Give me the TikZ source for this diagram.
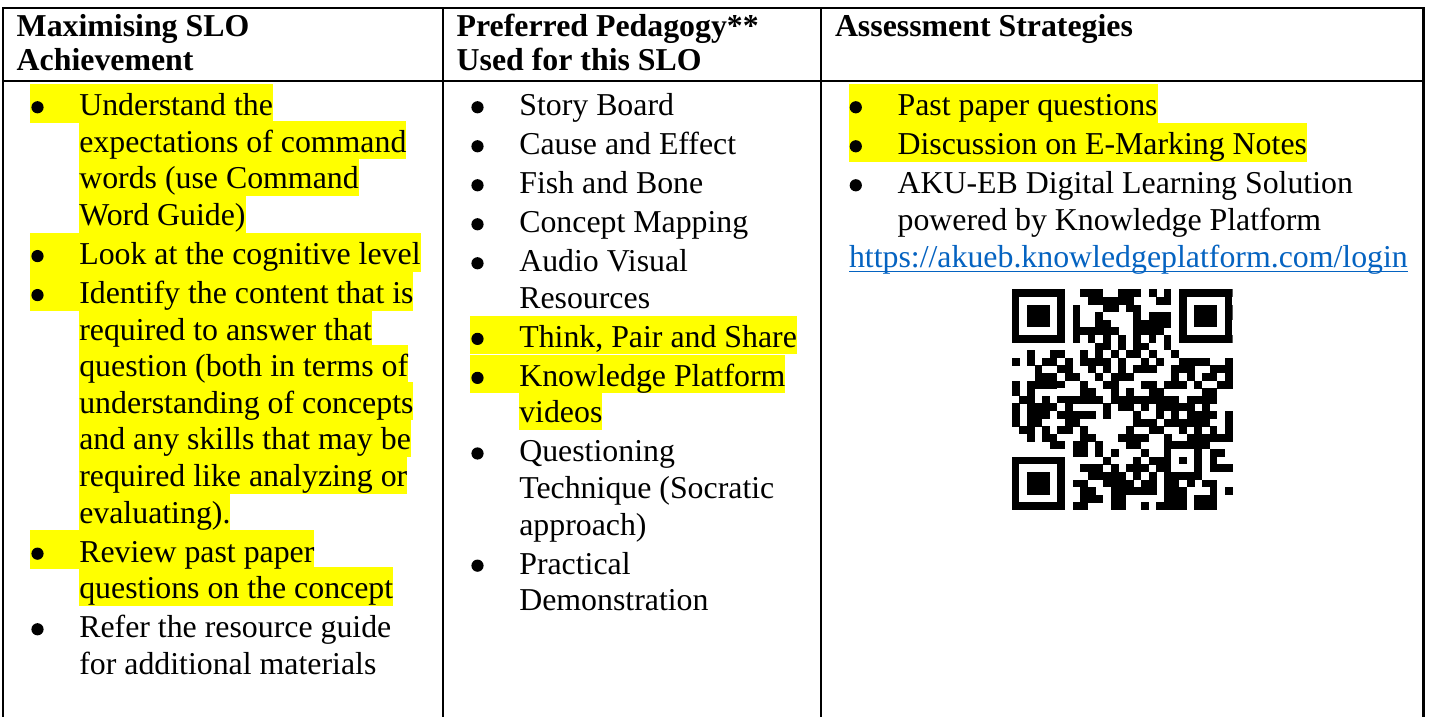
\documentclass[tikz,border=0pt]{standalone}
\usepackage{fontspec}
\setmainfont{Liberation Serif}
\usetikzlibrary{calc,backgrounds}
\definecolor{hly}{HTML}{FFFF00}
\definecolor{urlblue}{HTML}{0563C1}
\newcommand\hlfirst[1]{\fill[hly] ($(#1.base west)+(-49,-31.6)$) rectangle ($(#1.base east)+(0,7.2)$);}
\newcommand\hlcont[1]{\fill[hly] ($(#1.base west)+(0,-31.6)$) rectangle ($(#1.base east)+(0,7.2)$);}
\newcommand\bulat[1]{\node[bul] (bu#1) at ($(#1.base west)+(-41.8,-8.4)$) {};}
\newcommand\qrfinderat[2]{\fill[white] (#1-1,#2-1) rectangle (#1+8,#2+8);
  \fill (#1,#2) rectangle (#1+7,#2+7); \fill[white] (#1+1,#2+1) rectangle (#1+6,#2+6);
  \fill (#1+2,#2+2) rectangle (#1+5,#2+5);}
\tikzset{
  tx/.style={anchor=base west, inner sep=0pt, outer sep=0pt, font=\fontsize{12pt}{14pt}\selectfont},
  hd/.style={tx, font=\fontsize{12pt}{14pt}\selectfont\bfseries},
  bul/.style={circle, fill=black, inner sep=0pt, minimum size=4.6pt},
  rule/.style={line width=0.9pt, black},
}
\begin{document}
\begin{tikzpicture}[x=0.37693pt, y=-0.37693pt]
\useasboundingbox (0,0) rectangle (1430,717);
% table rules
\draw[rule, line join=miter] (2.8,717) -- (2.8,8.3) -- (1423.5,8.3) -- (1423.5,717);
\draw[rule] (443,8.3) -- (443,717);
\draw[rule] (821.2,8.3) -- (821.2,717);
\draw[rule] (2.8,81.2) -- (1423.5,81.2);
% headers
\node[hd] (h1a) at (16.7,36.8) {Maximising SLO};
\node[hd] (h1b) at (16.7,71) {Achievement};
\node[hd] (h2a) at (456.7,36.8) {Preferred Pedagogy**};
\node[hd] (h2b) at (456.7,71) {Used for this SLO};
\node[hd] (h3a) at (835,36.8) {Assessment Strategies};
% column 1
\node[tx] (a0) at (79.3,115.7) {Understand the};
\node[tx] (a1) at (79.3,152.3) {expectations of command};
\node[tx] (a2) at (79.3,188.9) {words (use Command};
\node[tx] (a3) at (79.3,225.5) {Word Guide)};
\node[tx] (a4) at (79.3,264.5) {Look at the cognitive level};
\node[tx] (a5) at (79.3,303.5) {Identify the content that is};
\node[tx] (a6) at (79.3,340.1) {required to answer that};
\node[tx] (a7) at (79.3,376.7) {question (both in terms of};
\node[tx] (a8) at (79.3,413.3) {understanding of concepts};
\node[tx] (a9) at (79.3,449.9) {and any skills that may be};
\node[tx] (a10) at (79.3,486.5) {required like analyzing or};
\node[tx] (a11) at (79.3,523.1) {evaluating).};
\node[tx] (a12) at (79.3,562.1) {Review past paper};
\node[tx] (a13) at (79.3,598.7) {questions on the concept};
\node[tx] (a14) at (79.3,637.7) {Refer the resource guide};
\node[tx] (a15) at (79.3,674.3) {for additional materials};
\bulat{a0}\bulat{a4}\bulat{a5}\bulat{a12}\bulat{a14}
% column 2
\node[tx] (p0) at (519.3,115.7) {Story Board};
\node[tx] (p1) at (519.3,154.7) {Cause and Effect};
\node[tx] (p2) at (519.3,193.7) {Fish and Bone};
\node[tx] (p3) at (519.3,232.7) {Concept Mapping};
\node[tx] (p4) at (519.3,271.7) {Audio Visual};
\node[tx] (p5) at (519.3,308.3) {Resources};
\node[tx] (p6) at (519.3,347.3) {Think, Pair and Share};
\node[tx] (p7) at (519.3,386.3) {Knowledge Platform};
\node[tx] (p8) at (519.3,422.9) {videos};
\node[tx] (p9) at (519.3,461.9) {Questioning};
\node[tx] (p10) at (519.3,498.5) {Technique (Socratic};
\node[tx] (p11) at (519.3,535.1) {approach)};
\node[tx] (p12) at (519.3,574.1) {Practical};
\node[tx] (p13) at (519.3,610.7) {Demonstration};
\bulat{p0}\bulat{p1}\bulat{p2}\bulat{p3}\bulat{p4}\bulat{p6}\bulat{p7}\bulat{p9}\bulat{p12}
% column 3
\node[tx] (s0) at (897.6,115.7) {Past paper questions};
\node[tx] (s1) at (897.6,154.7) {Discussion on E-Marking Notes};
\node[tx] (s2) at (897.6,193.7) {AKU-EB Digital Learning Solution};
\node[tx] (s3) at (897.6,230.3) {powered by Knowledge Platform};
\bulat{s0}\bulat{s1}\bulat{s2}
\node[tx, text=urlblue] (url) at (849,268) {https://akueb.knowledgeplatform.com/login};
\draw[urlblue, line width=0.55pt] ($(url.base west)+(0,3.6)$) -- ($(url.base east)+(0,3.6)$);
% highlights
\begin{scope}[on background layer]
\fill[white] (0,0) rectangle (1430,717);
\hlfirst{a0}\hlcont{a1}\hlcont{a2}\hlcont{a3}
\hlfirst{a4}
\hlfirst{a5}\hlcont{a6}\hlcont{a7}\hlcont{a8}\hlcont{a9}\hlcont{a10}\hlcont{a11}
\hlfirst{a12}\hlcont{a13}
\hlfirst{p6}\hlfirst{p7}\hlcont{p8}
\hlfirst{s0}\hlfirst{s1}
\end{scope}
% QR code (29 x 29 modules)
\begin{scope}[shift={(1011.7,289.3)}, x=2.868pt, y=-2.868pt]
\pgfmathsetseed{4711}
\foreach \qr in {0,...,28}{
  \foreach \qc in {0,...,28}{
    \pgfmathrandominteger{\qrbit}{0}{1}
    \ifnum\qrbit=1 \fill (\qc,\qr) rectangle ++(1.04,1.04);\fi
  }
}
\begin{scope}
\clip (0,0) rectangle (29,29);
\qrfinderat{0}{0}
\qrfinderat{22}{0}
\qrfinderat{0}{22}
\end{scope}
% timing patterns
\fill[white] (8,6) rectangle (21,7);
\fill[white] (6,8) rectangle (7,21);
\foreach \qt in {8,10,...,20}{
  \fill (\qt,6) rectangle ++(1,1);
  \fill (6,\qt) rectangle ++(1,1);
}
% alignment pattern
\fill (20,20) rectangle (25,25);
\fill[white] (21,21) rectangle (24,24);
\fill (22,22) rectangle (23,23);
\fill (8,21) rectangle ++(1,1);
\end{scope}
\end{tikzpicture}
\end{document}
